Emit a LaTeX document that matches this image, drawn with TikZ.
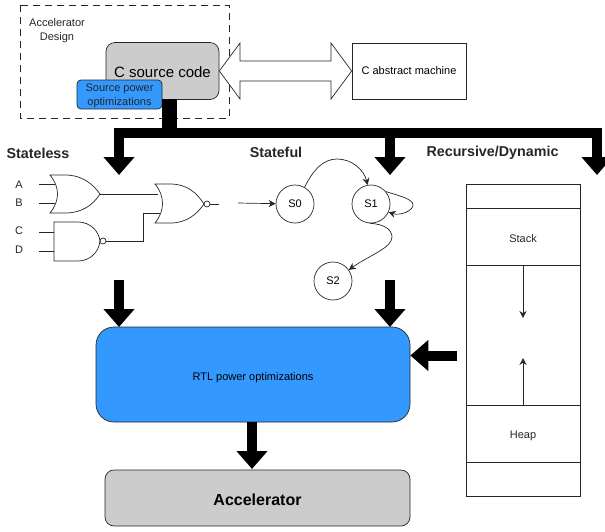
\documentclass[tikz,border=0pt]{standalone}
\usepackage{fontspec}
\setmainfont{Liberation Sans}
\usetikzlibrary{arrows.meta}
\definecolor{optblue}{HTML}{3399FF}
\definecolor{boxgray}{HTML}{CCCCCC}
\newcommand{\lowered}[2]{\raisebox{-#1pt}[0pt][0pt]{#2}}
\tikzset{
  thin line/.style={draw=black!85,line width=0.7pt},
  thin arrow/.style={thin line,-{Stealth[length=7pt,width=7pt]}},
  bus/.style={line width=10pt,-{Triangle[length=18pt,width=30pt]}},
  statenode/.style={thin line,circle,minimum size=38pt,inner sep=0pt,font=\fontsize{11}{13}\selectfont},
  label/.style={inner sep=0pt,font=\fontsize{11}{14}\selectfont,text=black!85},
  heading/.style={inner sep=0pt,font=\fontsize{14.3}{17}\selectfont\bfseries,text=black!85},
}
\begin{document}
\begin{tikzpicture}[x=1pt,y=-1pt]
  \clip (0,0) rectangle (605,531);
  \draw[thin line,dash pattern=on 7pt off 5pt] (20,5) rectangle (229,118);
  \node[label,align=center] (design) at (57,30.5) {Accelerator\\Design};
  \node[thin line,fill=boxgray,rounded corners=9pt,minimum width=113pt,minimum height=57pt,font=\fontsize{15}{17}\selectfont,inner sep=0pt] (csource) at (162.5,71) {\lowered{6.5}{C source code}};
  \node[thin line,rounded corners=4pt,fill=optblue,minimum width=85pt,minimum height=29pt,inner sep=0pt,font=\fontsize{11}{14.5}\selectfont,text=black!85] (srcopt) at (119.5,94.5) {\lowered{3.75}{\begin{tabular}{@{}c@{}}Source power\\optimizations\end{tabular}}};
  \node[thin line,minimum width=114pt,minimum height=56pt,inner sep=0pt,font=\fontsize{11}{13}\selectfont] (machine) at (409,71) {C abstract machine};
  \draw[thin line,fill=white,line join=miter] (csource.east) -- (240,43) -- (240,61) -- (331,61) -- (331,43) -- (machine.west) -- (331,99) -- (331,81) -- (240,81) -- (240,99) -- cycle;

  % bus down to the three columns
  \coordinate (join) at (169.5,132.5);
  \fill[black] (162,99) rectangle (177,132);
  \draw[bus] (join) -| (119,175);
  \draw[bus] (join) -| (390,175);
  \draw[bus] (join) -| (597,175);
  \node[heading] (stateless) at (38,153) {Stateless};
  \node[heading] (stateful) at (276,152) {Stateful};
  \node[heading] (recursive) at (492.5,153) {Recursive/Dynamic};

  % gates
  \node[label] (a) at (19,185) {A};
  \node[label] (b) at (19,203) {B};
  \node[label] (c) at (19,231) {C};
  \node[label] (d) at (19,250) {D};
  \draw[thin line] (39,184) -- (55,184) (39,203) -- (55,203) (39,232) -- (54,232) (39,251) -- (54,251);
  \draw[thin line] (50,175) .. controls (60,187) and (60,201) .. (50,213) -- (65,213) .. controls (82,213) and (93,205) .. (100,194) .. controls (93,184) and (82,175) .. (65,175) -- cycle;
  \draw[thin line] (54,222) -- (78,222) .. controls (90,222) and (99,231) .. (100,241) .. controls (99,252) and (90,261) .. (78,261) -- (54,261) -- cycle;
  \draw[thin line] (103,241) circle (3);
  \draw[thin line] (155,184) .. controls (165,196) and (165,211) .. (155,223) -- (170,223) .. controls (187,223) and (197,214) .. (204,204) .. controls (197,193) and (187,184) .. (170,184) -- cycle;
  \draw[thin line] (207,204) circle (3);
  \draw[thin line] (100,194) -- (158,194) (160,213) -- (143.5,213) -- (143.5,241) -- (106,241) (210,204) -- (219,204);

  % state machine
  \node[statenode] (s0) at (295,204) {S0};
  \node[statenode] (s1) at (371,204) {S1};
  \node[statenode] (s2) at (333,281) {S2};
  \coordinate (start) at (238,203);
  \draw[thin arrow] (start) -- (s0);
  \draw[thin arrow] (s0.60) .. controls (312,172) and (322,159) .. (337,159) .. controls (352,159) and (364,170) .. (s1.100);
  \draw[thin arrow] (s1.40) .. controls (400,196) and (413,199) .. (413,205) .. controls (413,211) and (400,216) .. (s1.-25);
  \draw[thin arrow] (s1.-95) .. controls (385,224) and (392,230) .. (392,237) .. controls (392,248) and (368,256) .. (s2.35);

  % stack and heap
  \node[thin line,minimum width=114pt,minimum height=24pt,inner sep=0pt] (top) at (523,196) {};
  \node[thin line,label,minimum width=114pt,minimum height=57pt] (stack) at (523,236.5) {\lowered{5.5}{Stack}};
  \node[thin line,minimum width=114pt,minimum height=140pt,inner sep=0pt] (free) at (523,335) {};
  \node[thin line,label,minimum width=114pt,minimum height=57pt] (heap) at (523,433.5) {\lowered{5}{Heap}};
  \node[thin line,minimum width=114pt,minimum height=34pt,inner sep=0pt] (bottom) at (523,479) {};
  \coordinate (stackend) at (523,318);
  \coordinate (heapend) at (523,358);
  \draw[thin arrow] (stack.south) -- (stackend);
  \draw[thin arrow] (heap.north) -- (heapend);

  % lower part
  \node[thin line,rounded corners=18pt,fill=optblue,minimum width=314pt,minimum height=95pt,inner sep=0pt,font=\fontsize{11}{13}\selectfont] (rtl) at (253,374.5) {\lowered{5.5}{RTL power optimizations}};
  \node[thin line,rounded corners=9pt,fill=boxgray,minimum width=305pt,minimum height=56pt,inner sep=0pt,font=\fontsize{16}{19}\selectfont\bfseries] (accel) at (257.5,498) {\lowered{7.5}{Accelerator}};
  \coordinate (leftin) at (119,280);
  \coordinate (midin) at (390,280);
  \coordinate (rightin) at (457,355.5);
  \draw[bus] (leftin) -- (119,327);
  \draw[bus] (midin) -- (390,327);
  \draw[bus] (rightin) -- (rtl.east |- rightin);
  \draw[bus] (rtl.south -| 252,0) -- (252,469);
\end{tikzpicture}
\end{document}
